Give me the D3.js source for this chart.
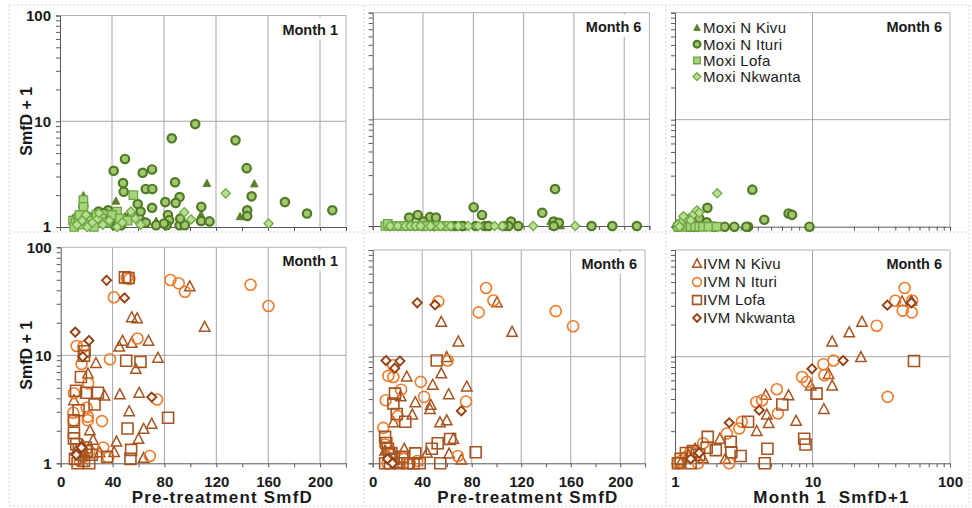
<!DOCTYPE html>
<html lang="en">
<head>
<meta charset="UTF-8">
<title>SmfD panels</title>
<script src="https://d3js.org/d3.v7.min.js"></script>
<style>
  body { margin: 0; background: #fff; }
  svg text { font-family: Arial, "Liberation Sans", sans-serif; fill: #1a1a1a; }
  .tick text { font-size: 15px; font-weight: bold; }
  .domain, .tick line { stroke: #595959; }
</style>
</head>
<body>
<script>
// ---- data: [x, SmfD+1] ----
// Moxidectin, month 1 vs pre-treatment
var moxiKivuM1 = [[18,1.97],[149.5,2.55],[113,2.57],[138.5,1.25],[43,1.75],[74,1.13],[108.5,1.3],[64,1.17],[22,1.1],[30,1.15],[12,1.05],[50,1.25]];
var moxiIturiM1 = [[104,9.4],[86,6.9],[135,6.6],[50,4.4],[143.6,3.6],[70.8,3.5],[41.3,3.4],[63.6,3.26],[48.5,2.6],[88.5,2.65],[49,2.16],[66,2.29],[71,2.29],[147.4,1.95],[92,1.92],[173,1.72],[81,1.72],[89,1.69],[190,1.34],[209.5,1.44],[144,1.44],[144,1.27],[108.7,1.55],[108.5,1.14],[115,1.13],[70.8,1.52],[59.8,1.65],[29.7,1.4],[37,1.44],[83,1.3],[84,1.16],[74,1.04],[82,1.04],[92,1.04],[96,1.04],[42,1.04],[47,1.04],[18,1.56],[92.5,1.2],[12,1.2],[15,1.3],[22,1.25],[26,1.15],[34,1.35],[45,1.2],[55,1.3],[62,1.4],[66,1.1],[80,1.08],[38,1.1]];
var moxiLofaM1 = [[56.4,2.0],[18,1.8],[18,1.55],[44,1.4],[10,1.15],[12,1.1],[14,1.2],[16,1.05],[20,1.25],[24,1.15],[28,1.3],[32,1.2],[36,1.1],[40,1.3],[46,1.2],[52,1.15],[11,1.0],[15,1.3],[22,1.05],[26,1.0]];
var moxiNkwantaM1 = [[127.5,2.08],[95.6,1.38],[100.8,1.18],[160.5,1.08],[54.6,1.4],[13,1.05],[17,1.15],[21,1.0],[25,1.1],[29,1.2],[33,1.05],[38,1.15],[44,1.0],[48,1.1],[58,1.2],[62,1.05],[30,1.35],[20,1.3]];

// Moxidectin, month 6 vs pre-treatment
var moxiKivuM6 = [[141.5,1.1],[149.5,1.0],[18,1.0],[64,1.0],[43,1.0]];
var moxiIturiM6 = [[145,2.22],[134.8,1.33],[80.3,1.5],[86.9,1.27],[35.8,1.27],[45.5,1.21],[50.3,1.2],[29,1.2],[40.2,1.1],[110,1.1],[144,1.1],[148,1.07],[115.7,1.0],[174,1.0],[190.5,1.0],[210,1.0],[144,1.0],[108,1.0],[82,1.0],[89,1.0],[72,1.0],[104,1.0],[49,1.0],[66,1.0],[71,1.0],[92,1.0],[63,1.0],[41,1.0],[58,1.0]];
var moxiLofaM6 = [[10,1],[13,1],[16,1],[19,1],[22,1],[25,1],[28,1],[32,1],[36,1],[40,1],[44,1],[52,1],[56,1],[60,1],[12,1.05]];
var moxiNkwantaM6 = [[127.6,1],[161,1],[103,1],[97,1],[14,1],[20,1],[26,1],[30,1],[34,1],[38,1],[46,1],[54,1],[62,1],[68,1],[76,1],[84,1]];

// Moxidectin, month 6 vs month 1 (both SmfD+1)
var moxiKivuRt = [[1.3,1.1],[1.75,1.1],[2.0,1.0],[1.1,1.0],[1.5,1.05]];
var moxiIturiRt = [[3.65,2.22],[1.72,1.5],[6.7,1.33],[7.1,1.29],[4.46,1.16],[9.5,1.0],[3.4,1.0],[3.3,1.0],[2.7,1.0],[2.3,1.0],[1.95,1.0],[1.44,1.0],[1.34,1.0],[1.55,1.1],[1.3,1.2],[1.4,1.27],[1.44,1.21],[1.2,1.1],[1.27,1.0],[1.13,1.07],[1.04,1.0],[1.9,1.0],[1.7,1.1],[1.5,1.2]];
var moxiLofaRt = [[1.15,1],[1.2,1],[1.3,1],[1.4,1],[1.5,1],[1.6,1],[1.75,1],[2.0,1],[1.1,1.05],[1.05,1]];
var moxiNkwantaRt = [[2.03,2.05],[1.36,1.3],[1.44,1.42],[1.2,1.2],[1.1,1.1],[1.3,1.15],[1.05,1.05],[1.5,1.35],[1.15,1.25],[1.08,1.0]];

// Ivermectin, month 1 vs pre-treatment
var ivmKivuM1 = [[99.5,43],[111,18.2],[54.8,22.3],[58.9,21.8],[67.7,13.5],[54.8,12.9],[47.7,13.5],[45.1,11.9],[75,9.4],[57.9,7.4],[27.2,8.4],[21,6.7],[45.6,4.3],[60.5,4.45],[33.8,4.2],[52.8,3.0],[70.2,2.3],[64,2.06],[60,1.67],[43,1.57],[22.5,2.0],[25,1.63],[41.2,1.26],[64,1.11],[10.2,3.8],[17,1.45],[12,1.3],[30,1.25]];
var ivmIturiM1 = [[84.6,49.8],[91,46.4],[95.8,38.8],[146.4,45],[160.2,28.6],[51,52],[53,51],[41,34.5],[59.2,14.3],[38,9.2],[12.3,12.2],[17.4,12],[16.1,8.3],[74.3,3.9],[21.2,5.5],[10.2,4.45],[20,3.27],[9.7,2.94],[20.9,2.7],[20.9,2.5],[31.8,2.46],[10,2.5],[68.7,1.17],[32.8,1.4],[36.6,1.13],[14.8,1.05],[18,1.15],[22,1.3]];
var ivmLofaM1 = [[49.5,52.7],[52.3,52],[82.8,2.64],[51.5,2.1],[50.5,8.9],[61.5,8.7],[18.4,10.9],[17.9,9.9],[15.6,6.3],[11.8,4.7],[19.5,4.5],[28.7,4.5],[26.1,3.5],[13.8,3.1],[10.2,2.5],[10.2,1.92],[10.2,1.7],[12,1.5],[14,1.35],[16,1.2],[11,1.1],[18,1.05],[20,1.3],[24,1.2],[54.3,1.33],[53.8,1.1],[35.8,1.15],[19.4,1.4],[13,1.0],[22,1.0]];
var ivmNkwantaM1 = [[35.4,49.5],[49.2,34],[11.2,16.4],[21.8,13.7],[70.2,4.1],[17,9.7],[12,1.2],[16,1.4]];

// Ivermectin, month 6 vs pre-treatment
var ivmKivuM6 = [[100.4,32],[55.4,21],[112.6,16.9],[69.2,13.7],[59.8,9.8],[55.4,6.9],[27.5,6.45],[76,5.2],[48.5,5.4],[61.4,4.4],[22.6,4.2],[34.4,3.7],[46.9,3.5],[46.3,3.2],[32,2.83],[54.4,2.4],[59.8,2.5],[16.7,2.4],[65.2,1.68],[25.5,1.35],[43.9,1.24],[61.7,1.22],[71.6,1.07],[10,1.3],[14,1.1],[20,1.0]];
var ivmIturiM6 = [[91.6,44],[53,33],[97.5,33.6],[85.6,26],[147.9,26.7],[161.9,19.3],[60.6,9.2],[16.7,8.3],[12.6,6.6],[16.7,6.45],[38.8,5.8],[22.9,4.9],[41.5,4.2],[10.5,3.9],[75.4,3.8],[8.6,2.15],[20.2,2.77],[68.7,1.17],[10,1.5],[15,1.2],[12,1.0],[25,1.1],[30,1.0],[36,1.05]];
var ivmLofaM6 = [[51.7,9.2],[18,4.5],[16.7,3.64],[19.4,2.9],[26.3,2.45],[62.5,1.69],[52.5,1.54],[83.2,1.27],[34.4,1.24],[54.6,1.0],[10,1.77],[11,1.55],[12.3,1.37],[13.5,1.24],[47.7,1.37],[10,1.0],[14,1.0],[17,1.1],[21,1.0],[24,1.15],[28,1.0],[33,1.0],[38,1.0],[15,1.25]];
var ivmNkwantaM6 = [[36,32],[50.3,30.6],[10.7,9.2],[22,9.1],[17.8,7.8],[71.6,3.1],[12,1.1],[16,1.0]];

// Ivermectin, month 6 vs month 1 (both SmfD+1)
var ivmKivuRt = [[52.4,33],[44.8,32.6],[22.9,21],[18.5,16.7],[13.9,13.7],[22.5,9.8],[13.1,6.8],[13.9,5.3],[9.7,5.3],[6.7,4.3],[4.57,4.35],[4.65,2.83],[4.8,2.36],[12.1,3.2],[7.6,2.48],[3.93,1.99],[2.12,1.68],[2.32,1.09],[1.25,1.2],[1.4,1.35],[1.6,1.1],[1.1,1.0]];
var ivmIturiRt = [[46.8,44],[40,33.4],[53,33.6],[45.3,27],[52.7,26],[29.3,19.5],[35.2,4.2],[14.2,9.2],[12,8.5],[12.2,6.7],[8.4,6.45],[9.1,5.8],[5.5,4.95],[3.9,3.76],[4.3,3.9],[5.6,2.93],[3.06,2.45],[2.93,2.12],[2.38,1.9],[2.48,1.0],[1.6,1.54],[1.47,1.0],[1.2,1.15],[1.1,1.05],[1.3,1.3],[1.05,1.0]];
var ivmLofaRt = [[54.7,9.1],[10.7,4.5],[6.03,3.56],[3.4,2.45],[8.7,1.7],[8.9,1.5],[4.7,1.37],[4.5,1.0],[3.0,1.17],[2.57,1.27],[2.54,1.59],[1.98,1.33],[1.73,1.77],[1.1,1.1],[1.2,1.25],[1.35,1.3],[1.5,1.2],[1.05,1.0],[1.3,1.0],[1.7,1.4]];
var ivmNkwantaRt = [[35,30.4],[52.4,32],[16.7,9.2],[9.9,7.7],[4.1,3.15],[2.48,2.4],[1.3,1.1],[1.5,1.25]];

var moxiNames = ["Moxi N Kivu", "Moxi N Ituri", "Moxi Lofa", "Moxi Nkwanta"];
var ivmNames = ["IVM N Kivu", "IVM N Ituri", "IVM Lofa", "IVM Nkwanta"];
var linTicks = [0, 20, 40, 60, 80, 100, 120, 140, 160, 180, 200, 220];
var logTicks = [1,2,3,4,5,6,7,8,9,10,20,30,40,50,60,70,80,90,100];
var yTitle = "SmfD + 1";
var preTitle = "Pre-treatment SmfD";
var m1Title = "Month 1  SmfD+1";

// ---- marker styles ----
var moxiStyle = [
  {shape: "tri", s: 3.8, fill: "#5e7f2c", stroke: "#5e7f2c", sw: 1},
  {shape: "circ", s: 4.2, fill: "#a3c76f", stroke: "#4f7a25", sw: 2.2},
  {shape: "sq", s: 4.2, fill: "#a8d47a", stroke: "#6da544", sw: 1.3},
  {shape: "dia", s: 4.6, fill: "#b8df8f", stroke: "#70a848", sw: 1.3}
];
var ivmStyle = [
  {shape: "tri", s: 5.2, fill: "none", stroke: "#a65420", sw: 1.5},
  {shape: "circ", s: 5.5, fill: "none", stroke: "#ee7b2a", sw: 1.6},
  {shape: "sq", s: 5.5, fill: "none", stroke: "#a65420", sw: 1.6},
  {shape: "dia", s: 4.6, fill: "#fdf0e6", stroke: "#8e3e12", sw: 1.8}
];

function shapePath(shape, s) {
  if (shape === "circ") return "M" + s + ",0A" + s + "," + s + " 0 1,1 " + (-s) + ",0A" + s + "," + s + " 0 1,1 " + s + ",0Z";
  if (shape === "sq") return "M" + (-s) + "," + (-s) + "H" + s + "V" + s + "H" + (-s) + "Z";
  if (shape === "dia") return "M0," + (-s) + "L" + s + ",0L0," + s + "L" + (-s) + ",0Z";
  var h = s * 1.9;
  return "M0," + (-h * 0.6) + "L" + s + "," + (h * 0.4) + "L" + (-s) + "," + (h * 0.4) + "Z";
}

var panels = [
  {x0: 60, x1: 346, y0: 227, y1: 15.5, xLog: false, series: [moxiKivuM1, moxiIturiM1, moxiLofaM1, moxiNkwantaM1], style: moxiStyle, month: "Month 1", yLab: true, xLab: false},
  {x0: 372.7, x1: 649.4, y0: 226, y1: 12.7, xLog: false, series: [moxiKivuM6, moxiIturiM6, moxiLofaM6, moxiNkwantaM6], style: moxiStyle, month: "Month 6", yLab: false, xLab: false},
  {x0: 675, x1: 950, y0: 226.7, y1: 12.7, xLog: true, series: [moxiKivuRt, moxiIturiRt, moxiLofaRt, moxiNkwantaRt], style: moxiStyle, month: "Month 6", yLab: false, xLab: false, legend: moxiNames, legY: 28, legStep: 16.2},
  {x0: 60.7, x1: 346, y0: 463.3, y1: 247.3, xLog: false, series: [ivmKivuM1, ivmIturiM1, ivmLofaM1, ivmNkwantaM1], style: ivmStyle, month: "Month 1", yLab: true, xLab: true, title: preTitle},
  {x0: 372.7, x1: 645, y0: 463.3, y1: 250, xLog: false, series: [ivmKivuM6, ivmIturiM6, ivmLofaM6, ivmNkwantaM6], style: ivmStyle, month: "Month 6", yLab: false, xLab: true, title: preTitle},
  {x0: 675, x1: 950, y0: 463.3, y1: 250, xLog: true, series: [ivmKivuRt, ivmIturiRt, ivmLofaRt, ivmNkwantaRt], style: ivmStyle, month: "Month 6", yLab: false, xLab: true, title: m1Title, legend: ivmNames, legY: 264, legStep: 18}
];

var svg = d3.select("body").append("svg")
  .attr("width", 972).attr("height", 508);

// panel separators
var sepX = [9, 364, 666, 969], sepY = [5, 232, 506];
sepX.forEach(function (x) {
  svg.append("line").attr("x1", x).attr("x2", x).attr("y1", 5).attr("y2", 506)
    .attr("stroke", "#d6d6d6").attr("stroke-dasharray", "2,2");
});
sepY.forEach(function (y) {
  svg.append("line").attr("x1", 9).attr("x2", 969).attr("y1", y).attr("y2", y)
    .attr("stroke", "#d6d6d6").attr("stroke-dasharray", "2,2");
});

panels.forEach(function (p) {
  var g = svg.append("g");
  var x = p.xLog ? d3.scaleLog().domain([1, 100]).range([p.x0, p.x1])
                 : d3.scaleLinear().domain([0, 220]).range([p.x0, p.x1]);
  var y = d3.scaleLog().domain([1, 100]).range([p.y0, p.y1]);

  // gridlines
  var gx = p.xLog ? [10] : [40, 80, 120, 160, 200];
  g.selectAll(".gv").data(gx).enter().append("line")
    .attr("x1", function (d) { return x(d); }).attr("x2", function (d) { return x(d); })
    .attr("y1", p.y1).attr("y2", p.y0)
    .attr("stroke", "#a6a6a6").attr("stroke-width", 1);
  g.append("line").attr("x1", p.x0).attr("x2", p.x1).attr("y1", y(10)).attr("y2", y(10))
    .attr("stroke", "#a6a6a6").attr("stroke-width", 1);

  // month label with white box
  g.append("rect").attr("x", p.x1 - 74).attr("y", p.y1 + 2).attr("width", 72).attr("height", 22)
    .attr("fill", "#fff");
  g.append("text").attr("x", p.x1 - 8).attr("y", p.y1 + 19)
    .attr("text-anchor", "end").style("font-size", "14.5px").style("font-weight", "bold")
    .text(p.month);

  // frame top/right
  g.append("path").attr("d", "M" + p.x0 + "," + p.y1 + "H" + p.x1 + "V" + p.y0)
    .attr("fill", "none").attr("stroke", "#b3b3b3");

  // y axis
  var ya = d3.axisLeft(y).tickValues(logTicks).tickSizeOuter(0)
    .tickSize(4)
    .tickFormat(function (d) { return (p.yLab && (d === 1 || d === 10 || d === 100)) ? d : ""; });
  var yg = g.append("g").attr("transform", "translate(" + p.x0 + ",0)").call(ya);
  yg.selectAll(".tick text").attr("x", -9);

  // x axis
  var xa = (p.xLog ? d3.axisBottom(x).tickValues(logTicks)
                   : d3.axisBottom(x).tickValues(linTicks))
    .tickSizeOuter(0).tickSize(4)
    .tickFormat(function (d) {
      if (!p.xLab) return "";
      if (p.xLog) return (d === 1 || d === 10 || d === 100) ? d : "";
      return d % 40 === 0 ? d : "";
    });
  var xg = g.append("g").attr("transform", "translate(0," + p.y0 + ")").call(xa);
  xg.selectAll(".tick text").attr("y", 9).attr("dy", "0.95em");

  // axis titles
  if (p.yLab) {
    g.append("text").attr("transform", "translate(32," + ((p.y0 + p.y1) / 2) + ") rotate(-90)")
      .attr("text-anchor", "middle").style("font-size", "16px").style("font-weight", "bold")
      .text(yTitle);
  }
  if (p.title) {
    g.append("text").attr("x", (p.x0 + p.x1) / 2 + 19).attr("y", 503)
      .attr("text-anchor", "middle").style("font-size", "17px").style("font-weight", "bold")
      .style("letter-spacing", "1.2px").style("white-space", "pre")
      .text(p.title);
  }

  // points
  p.series.forEach(function (data, i) {
    var st = p.style[i];
    g.append("g").selectAll("path").data(data).enter().append("path")
      .attr("transform", function (d) { return "translate(" + x(d[0]) + "," + y(d[1]) + ")"; })
      .attr("d", shapePath(st.shape, st.s))
      .attr("fill", st.fill).attr("stroke", st.stroke).attr("stroke-width", st.sw);
  });

  // legend
  if (p.legend) {
    var lg = g.append("g");
    p.legend.forEach(function (name, i) {
      var st = p.style[i];
      var ly = p.legY + i * p.legStep;
      var sc = st.shape === "circ" || st.shape === "sq" ? 0.8 : 0.85;
      lg.append("path").attr("transform", "translate(697," + ly + ")")
        .attr("d", shapePath(st.shape, st.s * sc))
        .attr("fill", st.fill).attr("stroke", st.stroke).attr("stroke-width", st.sw);
      lg.append("text").attr("x", 703).attr("y", ly).attr("dy", "0.36em")
        .style("font-size", "15px").style("letter-spacing", "0.3px").text(name);
    });
  }
});
</script>
</body>
</html>
